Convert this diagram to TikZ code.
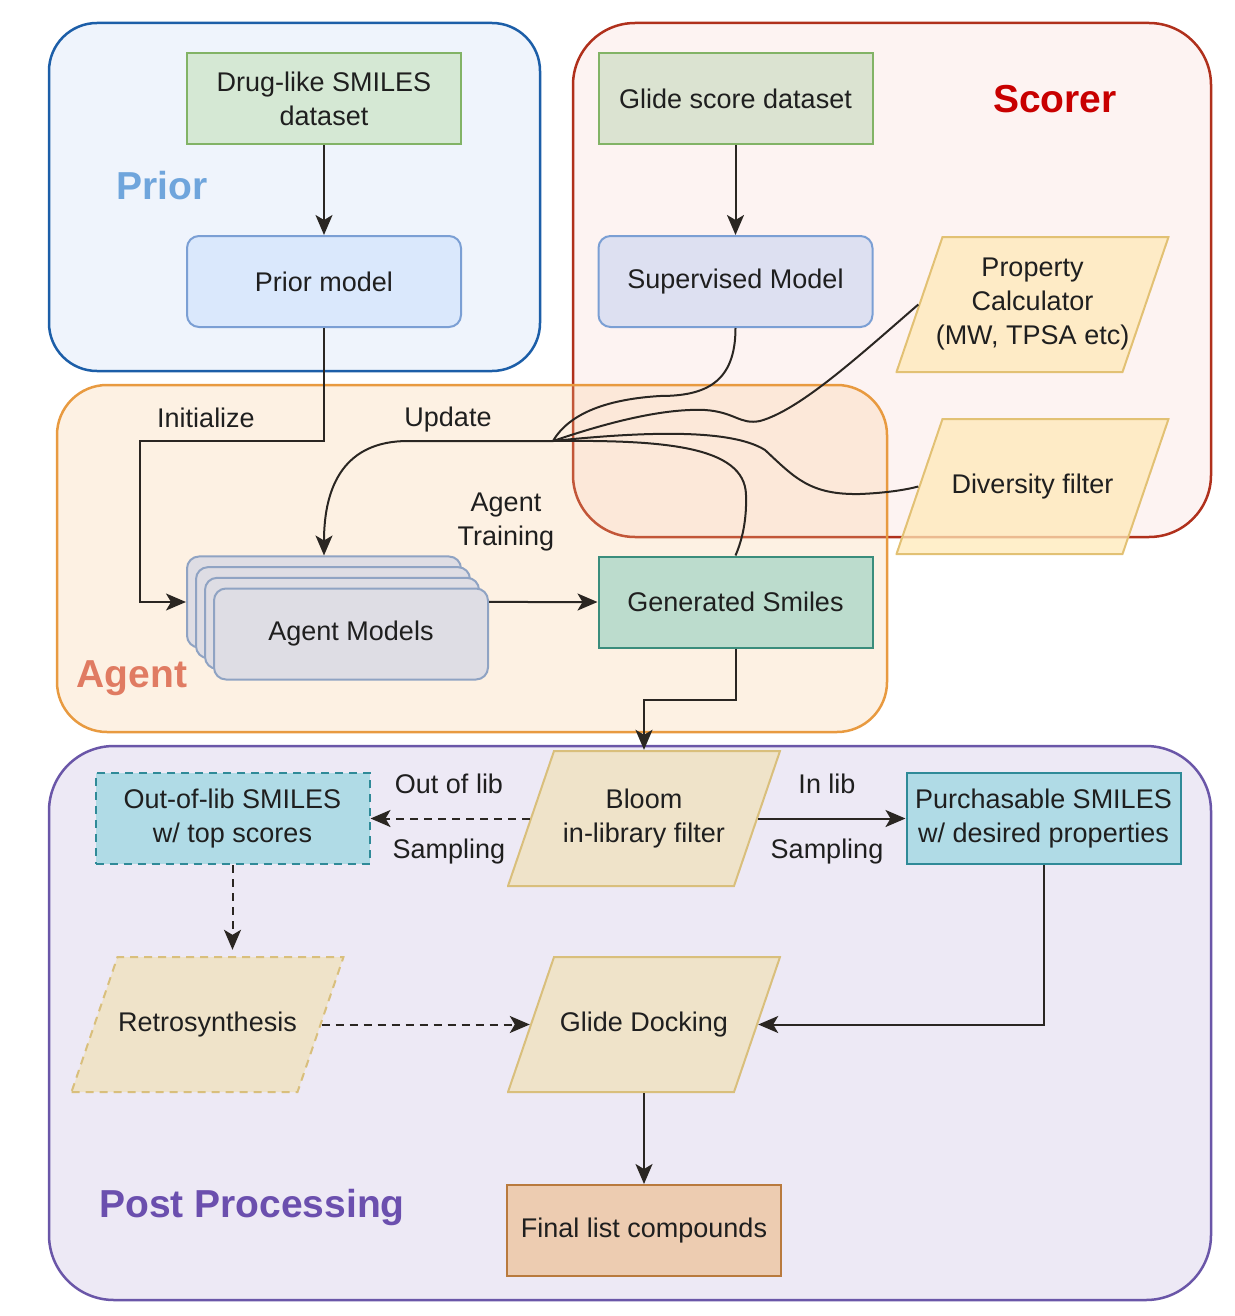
\documentclass[tikz,border=0pt]{standalone}
\usepackage{fontspec}
\setmainfont{Liberation Sans}
\usetikzlibrary{arrows.meta}

\definecolor{txt}{HTML}{1F1F1F}
\definecolor{wirecol}{HTML}{2A2622}
\definecolor{priorline}{HTML}{1C5EA8}
\definecolor{priorbg}{HTML}{EFF4FC}
\definecolor{scorerline}{HTML}{B0301C}
\definecolor{scorerbg}{HTML}{F8CECC}
\definecolor{agentline}{HTML}{E89A40}
\definecolor{agentbg}{HTML}{F9C98F}
\definecolor{postline}{HTML}{6A56A8}
\definecolor{postbg}{HTML}{EDE9F5}
\definecolor{priortitle}{HTML}{6FA5DC}
\definecolor{scorertitle}{HTML}{C80000}
\definecolor{agenttitle}{HTML}{E07B62}
\definecolor{posttitle}{HTML}{6B4FAE}
\definecolor{greenfill}{HTML}{D5E8D4}
\definecolor{glidefill}{HTML}{DBE3D1}
\definecolor{greenline}{HTML}{82B366}
\definecolor{bluefill}{HTML}{DAE8FC}
\definecolor{supfill}{HTML}{DDE0F1}
\definecolor{blueline}{HTML}{7B9FD4}
\definecolor{yellowfill}{HTML}{FFE9B8}
\definecolor{yellowline}{HTML}{E2C174}
\definecolor{agfill}{HTML}{DEDDE4}
\definecolor{agline}{HTML}{8FA3C3}
\definecolor{genfill}{HTML}{BCDCCD}
\definecolor{genline}{HTML}{3A8D7C}
\definecolor{beigefill}{HTML}{EFE3C9}
\definecolor{beigeline}{HTML}{D9BF7C}
\definecolor{cyanfill}{HTML}{B0DBE6}
\definecolor{cyanline}{HTML}{2F8A98}
\definecolor{finalfill}{HTML}{EDCCB1}
\definecolor{finalline}{HTML}{B97A3D}

\begin{document}
\begin{tikzpicture}[x=1pt,y=-1pt,
	every node/.style={font=\fontsize{27}{34}\selectfont, text=txt},
	box/.style={draw, line width=2pt, minimum width=274pt, minimum height=91pt, align=center, inner sep=2pt},
	model/.style={box, rounded corners=12pt},
	para/.style={rectangle, minimum width=274pt, minimum height=137pt, inner sep=0pt, align=center,
		path picture={\draw[line width=2pt, #1]
			([xshift=1pt,yshift=1pt]path picture bounding box.south west)
			-- ([xshift=-47pt,yshift=1pt]path picture bounding box.south east)
			-- ([xshift=-1pt,yshift=-1pt]path picture bounding box.north east)
			-- ([xshift=47pt,yshift=-1pt]path picture bounding box.north west) -- cycle;}},
	region/.style={line width=2.5pt, rounded corners=#1},
	title/.style={font=\fontsize{39}{44}\selectfont\bfseries},
	conn/.style={draw=wirecol, line width=2pt},
	arr/.style={conn, -{Stealth[length=20pt,width=17pt,inset=5pt]}},
	dashline/.style={dash pattern=on 8pt off 6pt}]
	\useasboundingbox (0,0) rectangle (1234,1316);

	% groups
	\draw[region=48pt, draw=priorline, fill=priorbg] (49,23) rectangle (540,371);
	\draw[region=62pt, draw=scorerline, fill=scorerbg, fill opacity=0.25] (573,23) rectangle (1211,537);
	\draw[region=50pt, draw=agentline, fill=agentbg, fill opacity=0.25] (57,385) rectangle (887,732);
	\draw[region=65pt, draw=postline, fill=postbg] (49,746) rectangle (1211,1300);

	\node[title, text=priortitle] (priorlbl) at (162,186) {Prior};
	\node[title, text=scorertitle] (scorerlbl) at (1055,99) {Scorer};
	\node[title, text=agenttitle] (agentlbl) at (132,678) {Agent};
	\node[title, text=posttitle] (postlbl) at (252,1207) {Post Processing};

	% prior and scorer
	\node[box, fill=greenfill, draw=greenline] (drug) at (324,99) {Drug-like SMILES\\dataset};
	\node[model, fill=bluefill, draw=blueline] (prior) at (324,281.5) {Prior model};
	\node[box, fill=glidefill, draw=greenline] (glide) at (735.5,99) {Glide score dataset};
	\node[model, fill=supfill, draw=blueline] (superv) at (735.5,281.5) {Supervised Model};
	\node[para={fill=yellowfill, fill opacity=0.75, draw=yellowline}] (prop) at (1032.5,304.5) {Property\\Calculator\\(MW, TPSA etc)};
	\node[para={fill=yellowfill, fill opacity=0.75, draw=yellowline}] (divf) at (1032.5,486.5) {Diversity filter};

	% agent
	\foreach \i in {3,2,1}
		\node[model, fill=agfill, draw=agline] (agent\i) at (351-9*\i, 634-10.67*\i) {};
	\node[model, fill=agfill, draw=agline] (agents) at (351,634) {Agent Models};
	\node[box, fill=genfill, draw=genline] (gen) at (735.5,602) {Generated Smiles};

	% post processing
	\node[para={fill=beigefill, draw=beigeline}] (bloom) at (644,818.5) {Bloom\\in-library filter};
	\node[box, fill=cyanfill, draw=cyanline, dashline] (outlib) at (232.5,818.5) {Out-of-lib SMILES\\w/ top scores};
	\node[box, fill=cyanfill, draw=cyanline, inner sep=0pt] (purch) at (1043.5,818.5) {Purchasable SMILES\\w/ desired properties};
	\node[para={fill=beigefill, draw=beigeline, dashline}] (retro) at (207.5,1024.5) {Retrosynthesis};
	\node[para={fill=beigefill, draw=beigeline}] (dock) at (644,1024.5) {Glide Docking};
	\node[box, fill=finalfill, draw=finalline] (final) at (644,1230.5) {Final list compounds};

	% labels
	\node (initlbl) at (206,418) {Initialize};
	\node (updlbl) at (448,420) {Update};
	\node[align=center] (trainlbl) at (506,522) {Agent\\Training};
	\node (outlbl) at (449,784) {Out of lib};
	\node (outsmp) at (449,852) {Sampling};
	\node (inlbl) at (827,784) {In lib};
	\node (insmp) at (827,852) {Sampling};

	% connectors
	\draw[arr] (drug) -- (prior);
	\draw[arr] (glide) -- (superv);
	\coordinate (initc) at (140,441);
	\draw[arr] (prior.south) |- (initc) |- (agent3.west);
	\coordinate (hub) at (553,441);
	\draw[arr] (hub) -- (408,441) .. controls (345,441) and (324,485) .. (agent3.north);
	\draw[conn] (superv.south) .. controls +(0,55) and +(45,0) .. (660,396) .. controls (610,399) and (570,412) .. (hub);
	\draw[conn] (hub) .. controls (600,425) and (660,408) .. (705,410) .. controls (735,412) and (740,425) .. (760,421) .. controls (800,410) and (860,355) .. ([xshift=23pt]prop.west);
	\draw[conn] (hub) .. controls (640,432) and (730,428) .. (765,450) .. controls (795,478) and (810,495) .. (860,494) .. controls (885,493) and (905,490) .. ([xshift=23pt]divf.west);
	\draw[conn] (hub) .. controls (660,440) and (745,445) .. (746,495) .. controls (747,525) and (740,545) .. (gen.north);
	\draw[arr] (agents.east |- agent3.west) -- (gen.west);
	\draw[arr] (gen.south) -- ++(0,51) -| (bloom.north);
	\draw[arr, dashline] ([xshift=23pt]bloom.west) -- (outlib.east);
	\draw[arr] ([xshift=-23pt]bloom.east) -- (purch.west);
	\coordinate (retrotop) at (outlib.south |- retro.north);
	\draw[arr, dashline] (outlib.south) -- ([yshift=6pt]retrotop);
	\draw[arr, dashline] ([xshift=-23pt]retro.east) -- ([xshift=23pt]dock.west);
	\draw[arr] (purch.south) |- ([xshift=-23pt]dock.east);
	\draw[arr] (dock.south) -- (final.north);
\end{tikzpicture}
\end{document}
